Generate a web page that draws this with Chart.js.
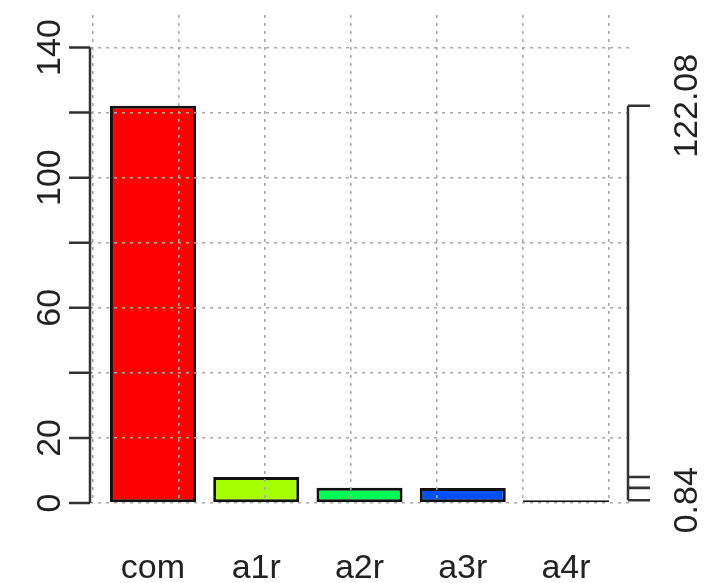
<!DOCTYPE html>
<html>
<head>
<meta charset="utf-8">
<script src="https://cdn.jsdelivr.net/npm/chart.js@4"></script>
<style>
  html, body { margin: 0; padding: 0; background: #fff; }
</style>
</head>
<body>
<canvas id="barChart" width="707" height="583"></canvas>
<script>
const categories = ['com', 'a1r', 'a2r', 'a3r', 'a4r'];
const barValues = [122.08, 8.0, 4.7, 4.6, 0.84];
const barColors = ['#ff0000', '#a6ff00', '#00ff55', '#0050ff', '#cc00ff'];
// R barplot midpoints (width 1, space 0.2)
const barCenters = [0.7, 1.9, 3.1, 4.3, 5.5];
const gridX = [0, 1, 2, 3, 4, 5, 6];
const leftTicks = [0, 20, 40, 60, 80, 100, 120, 140];
const leftLabels = ['0', '20', '', '60', '', '100', '', '140'];
const rightTicks = [122.08, 8.0, 4.7, 4.6, 0.84];
const rightLabels = ['122.08', '', '', '', '0.84'];

const FONT = '34px "Liberation Sans", Arial, sans-serif';
const INK = '#222';

// R style axes: line only from first to last tick, rotated labels
const rAxes = {
    id: 'rAxes',
    afterDraw(chart) {
        const c = chart.ctx;
        const y = chart.scales.y;
        const left = chart.chartArea.left;
        const right = chart.chartArea.right;
        c.save();
        c.strokeStyle = '#333';
        c.lineWidth = 2.5;
        c.fillStyle = INK;
        c.font = FONT;
        c.textAlign = 'center';
        c.textBaseline = 'middle';

        // left axis
        c.beginPath();
        c.moveTo(left, y.getPixelForValue(leftTicks[0]));
        c.lineTo(left, y.getPixelForValue(leftTicks[leftTicks.length - 1]));
        for (const t of leftTicks) {
            const py = y.getPixelForValue(t);
            c.moveTo(left, py);
            c.lineTo(left - 21, py);
        }
        c.stroke();
        leftTicks.forEach((t, i) => {
            if (!leftLabels[i]) return;
            c.save();
            c.translate(51, y.getPixelForValue(t));
            c.rotate(-Math.PI / 2);
            c.fillText(leftLabels[i], 0, 0);
            c.restore();
        });

        // right axis
        const rx = right - 1;
        c.beginPath();
        c.moveTo(rx, y.getPixelForValue(Math.max(...rightTicks)));
        c.lineTo(rx, y.getPixelForValue(Math.min(...rightTicks)));
        for (const t of rightTicks) {
            const py = y.getPixelForValue(t);
            c.moveTo(rx, py);
            c.lineTo(rx + 22, py);
        }
        c.stroke();
        rightTicks.forEach((t, i) => {
            if (!rightLabels[i]) return;
            c.save();
            c.translate(688, y.getPixelForValue(t));
            c.rotate(-Math.PI / 2);
            c.fillText(rightLabels[i], 0, 0);
            c.restore();
        });
        c.restore();
    }
};

var ctx = document.getElementById('barChart').getContext('2d');

var barChart = new Chart(ctx, {
    type: 'bar',
    data: {
        datasets: [{
            data: barCenters.map((x, i) => ({ x: x, y: barValues[i] })),
            backgroundColor: barColors,
            borderColor: '#111',
            borderWidth: 3,
            borderSkipped: false,
            barPercentage: 1 / 1.2,
            categoryPercentage: 1
        }]
    },
    options: {
        responsive: false,
        devicePixelRatio: 1,
        animation: false,
        layout: { padding: { right: 78 } },
        plugins: {
            legend: { display: false },
            tooltip: { enabled: false }
        },
        scales: {
            x: {
                type: 'linear',
                offset: false,
                min: -0.032,
                max: 6.232,
                afterBuildTicks: s => { s.ticks = barCenters.map(v => ({ value: v })); },
                afterFit: s => { s.height = 80; },
                grid: { display: false, drawTicks: false, offset: false },
                border: { display: false },
                ticks: {
                    autoSkip: false,
                    maxRotation: 0,
                    padding: 45,
                    color: INK,
                    font: { family: '"Liberation Sans", Arial, sans-serif', size: 34 },
                    callback: (v, i) => categories[i]
                }
            },
            xg: {
                type: 'linear',
                position: 'top',
                offset: false,
                min: -0.032,
                max: 6.232,
                afterBuildTicks: s => { s.ticks = gridX.map(v => ({ value: v })); },
                afterFit: s => { s.height = 15; },
                ticks: { display: false },
                grid: { color: '#a8a8a8', lineWidth: 1.6, drawTicks: false, offset: false, z: 1 },
                border: { display: false, dash: [3, 5] }
            },
            y: {
                min: 0,
                max: 150,
                afterBuildTicks: s => { s.ticks = leftTicks.map(v => ({ value: v })); },
                afterFit: s => { s.width = 90; },
                ticks: { display: false },
                grid: { color: '#a8a8a8', lineWidth: 1.6, drawTicks: false, z: 1 },
                border: { display: false, dash: [3, 5] }
            }
        }
    },
    plugins: [rAxes]
});
</script>
</body>
</html>
